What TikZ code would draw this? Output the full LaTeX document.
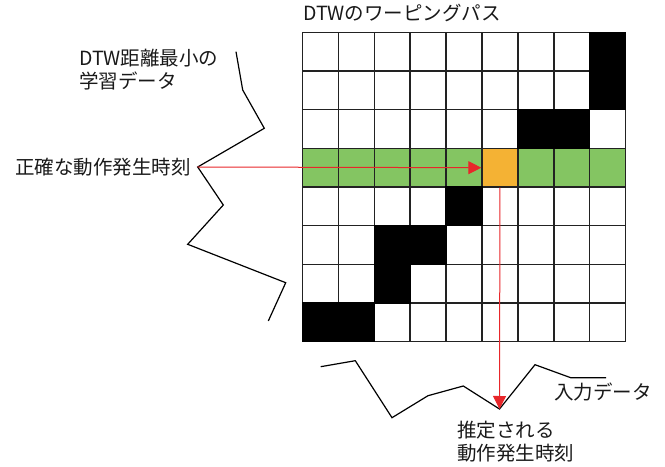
\documentclass[tikz,border=0pt]{standalone}
\usepackage{fontspec}
\newfontfamily\jp{Noto Sans CJK JP}
\usetikzlibrary{arrows.meta}
\definecolor{gridline}{HTML}{222222}
\definecolor{pathgreen}{HTML}{84C562}
\definecolor{hitorange}{HTML}{F4B234}
\definecolor{arrowred}{HTML}{E8262A}
\tikzset{
  lbl/.style={font=\jp\fontsize{19.5bp}{23bp}\selectfont, inner sep=0pt, align=left, text=black!90},
  cellbox/.style={draw=gridline, line width=1.4bp, minimum width=35.92bp, minimum height=38.66bp, inner sep=0pt, anchor=north west},
  blk/.style={cellbox, draw=black, fill=black},
  grn/.style={cellbox, fill=pathgreen},
  wave/.style={draw=black, line width=1.2bp, line join=miter},
  redarrow/.style={draw=arrowred, line width=1bp, -{Triangle[length=13bp,width=13bp]}, arrowred}
}
\begin{document}
\begin{tikzpicture}[x=1bp,y=-1bp]
\useasboundingbox (0,0) rectangle (665,467);
% grid
\foreach \r in {0,...,7}{
  \foreach \c in {0,...,8}{
    \node[cellbox] (c\r-\c) at ({301.7+35.92*\c},{31.7+38.66*\r}) {};
  }
}
% green row
\foreach \c in {0,1,2,3,4,6,7,8}{
  \node[grn] at ({301.7+35.92*\c},{31.7+38.66*3}) {};
}
\node[cellbox, fill=hitorange] (hit) at ({301.7+35.92*5},{31.7+38.66*3}) {};
% black path cells
\foreach \r/\c in {0/8,1/8,2/6,2/7,4/4,5/2,5/3,6/2,7/0,7/1}{
  \node[blk] at ({301.7+35.92*\c},{31.7+38.66*\r}) {};
}
% left waveform (training data)
\coordinate (l1) at (236,51.7);
\coordinate (l2) at (242.7,90);
\coordinate (l3) at (264.3,128.3);
\coordinate (l4) at (197.7,167);
\coordinate (l5) at (223.3,205);
\coordinate (l6) at (187.7,244.3);
\coordinate (l7) at (285.7,282.7);
\coordinate (l8) at (268.3,321);
\draw[wave] (l1) -- (l2) -- (l3) -- (l4) -- (l5) -- (l6) -- (l7) -- (l8);
% bottom waveform (input data)
\coordinate (b1) at (320.7,366.7);
\coordinate (b2) at (355.3,360.7);
\coordinate (b3) at (392,417.7);
\coordinate (b4) at (428,395.7);
\coordinate (b5) at (463.3,386);
\coordinate (b6) at (499.5,409);
\coordinate (b7) at (535,364.7);
\coordinate (b8) at (570.7,377.7);
\coordinate (b9) at (606,377.7);
\draw[wave] (b1) -- (b2) -- (b3) -- (b4) -- (b5) -- (b6) -- (b7) -- (b8) -- (b9);
% arrows
\draw[redarrow] (l4) -- (hit.west);
\draw[redarrow] (hit.south) -- (b6);
% labels
\node[lbl, anchor=base west] (title) at (303,21) {DTWのワーピングパス};
\node[lbl, anchor=west] (train) at (79,69.5) {DTW距離最小の\\学習データ};
\node[lbl, anchor=east] (exact) at (191,167) {正確な動作発生時刻};
\node[lbl, anchor=west] (input) at (554,392) {入力データ};
\node[lbl, anchor=west] (est) at (457,442) {推定される\\動作発生時刻};
\end{tikzpicture}
\end{document}
